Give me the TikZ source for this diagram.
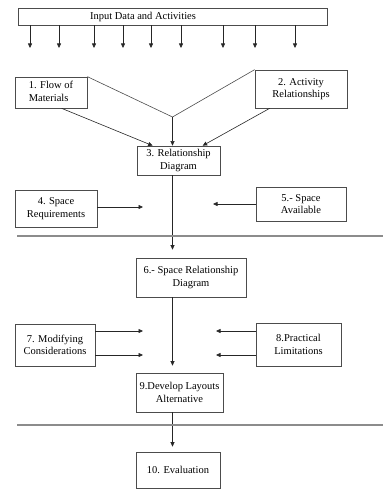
\documentclass[tikz,border=0pt]{standalone}
\usepackage{fontspec}
\setmainfont{Liberation Serif}
\usetikzlibrary{arrows.meta,calc}
\begin{document}
\begin{tikzpicture}[x=1pt,y=-1pt,
  txt/.style={font=\fontsize{10.5}{12.5}\selectfont},
  box/.style={draw=black!70, line width=0.7pt, inner sep=0pt, align=center, txt},
  arr/.style={-{Triangle[length=4.5pt,width=4pt]}, line width=0.6pt, draw=black!85},
  conn/.style={line width=0.6pt, draw=black!70},
  sep/.style={draw=black!45, line width=1.4pt}]
\useasboundingbox (0,0) rectangle (383,489);
% input bar
\node[box, minimum width=309pt, minimum height=17pt] (input) at (172.5,16.5) {};
\node[txt, inner sep=0pt] (inputlbl) at (143,16.5) {Input Data and Activities};
\foreach \x [count=\i] in {30,59,94,123,151,181,223,255,295}{
  \coordinate (in\i) at (\x,48);
  \draw[arr] (input.south -| in\i) -- (in\i);
}
% boxes
\node[box, minimum width=72pt, minimum height=31pt] (b1) at (51,92.5) {\begin{tabular}{@{}l@{}}1. Flow of\\Materials\end{tabular}};
\node[box, minimum width=92pt, minimum height=38pt] (b2) at (301,89) {2. Activity\\Relationships};
\node[box, minimum width=83pt, minimum height=29pt] (b3) at (178.5,160.5) {3. Relationship\\Diagram};
\node[box, minimum width=82pt, minimum height=37pt] (b4) at (56,208.5) {4. Space\\Requirements};
\node[box, minimum width=90pt, minimum height=34pt] (b5) at (301,204) {5.- Space\\Available};
\node[box, minimum width=110pt, minimum height=39pt] (b6) at (191,277.5) {6.- Space Relationship\\Diagram};
\node[box, minimum width=80pt, minimum height=42pt] (b7) at (55,345) {7. Modifying\\Considerations};
\node[box, minimum width=85pt, minimum height=43pt] (b8) at (298.5,344.5) {8.Practical\\Limitations};
\node[box, minimum width=87pt, minimum height=39pt] (b9) at (179.5,392.5) {9.Develop Layouts\\Alternative};
\node[box, minimum width=84pt, minimum height=36pt] (b10) at (178,470) {10. Evaluation};
% converging lines to box 3
\coordinate (V) at (172.5,117);
\draw[conn] (b1.north east) -- (V);
\draw[conn] (b2.north west) -- (V);
\draw[arr] (V) -- (b3.north -| V);
\draw[arr] ($(b1.south west)+(47,0)$) -- ($(b3.north west)+(16,0)$);
\draw[arr] ($(b2.south west)+(15,0)$) -- ($(b3.north west)+(66,0)$);
% side arrows
\coordinate (a4) at (143,207);
\coordinate (a5) at (213,204);
\draw[arr] (b4.east |- a4) -- (a4);
\draw[arr] (b5.west |- a5) -- (a5);
\coordinate (a7t) at (143,331);
\coordinate (a7b) at (143,355);
\coordinate (a8t) at (216,331);
\coordinate (a8b) at (216,355);
\draw[arr] (b7.east |- a7t) -- (a7t);
\draw[arr] (b7.east |- a7b) -- (a7b);
\draw[arr] (b8.west |- a8t) -- (a8t);
\draw[arr] (b8.west |- a8b) -- (a8b);
% main vertical flow
\draw[arr, shorten >=8pt] (b3.south -| V) -- (b6.north -| V);
\draw[arr, shorten >=7pt] (b6.south -| V) -- (b9.north -| V);
\draw[arr, shorten >=5pt] (b9.south -| V) -- (b10.north -| V);
% separators
\coordinate (s1l) at (17,236);
\coordinate (s1r) at (383,236);
\coordinate (s2l) at (17,425);
\coordinate (s2r) at (383,425);
\draw[sep] (s1l) -- (s1r);
\draw[sep] (s2l) -- (s2r);
\end{tikzpicture}
\end{document}
